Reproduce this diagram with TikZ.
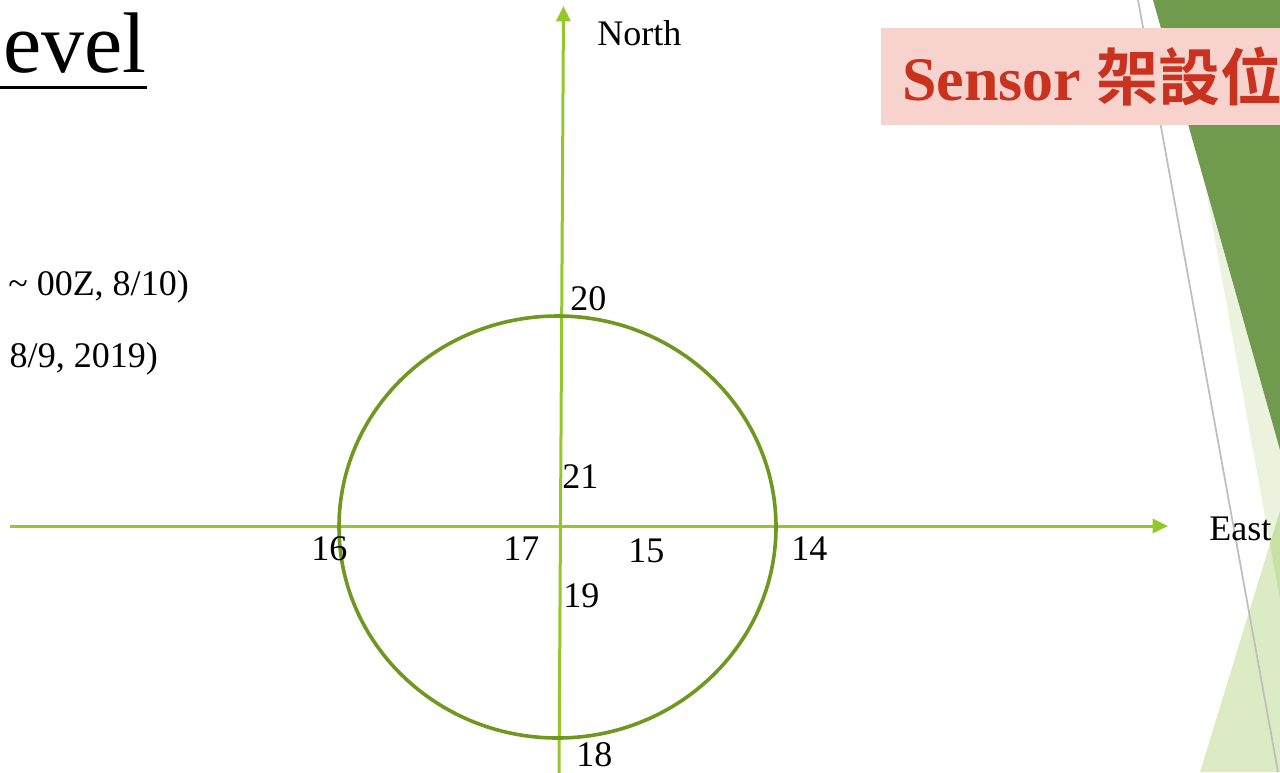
\documentclass[tikz,border=0pt]{standalone}
\usepackage{fontspec}
\setmainfont{Liberation Serif}
\newfontfamily\cjk{Noto Sans CJK TC}[BoldFont={Noto Sans CJK TC Bold}]
\usetikzlibrary{arrows.meta,shapes.geometric}
\definecolor{axisgreen}{RGB}{146,200,40}
\definecolor{ringgreen}{RGB}{110,152,30}
\definecolor{facetdark}{RGB}{112,155,78}
\definecolor{facetpale}{RGB}{235,242,222}
\definecolor{facetlight}{RGB}{221,235,196}
\definecolor{facetover}{RGB}{201,224,165}
\definecolor{boxpink}{RGB}{248,211,206}
\definecolor{boxred}{RGB}{200,50,30}
\definecolor{facetgray}{RGB}{190,190,190}
\begin{document}
\begin{tikzpicture}[x=0.75pt,y=-0.75pt,
  lbl/.style={inner sep=0pt, anchor=base west, font=\fontsize{27}{27}\selectfont},
  txt/.style={inner sep=0pt, anchor=base east, font=\fontsize{27}{27}\selectfont},
  axis/.style={draw=axisgreen, line width=2.25pt, -{Triangle[length=11.5pt,width=10.5pt]}}]
\useasboundingbox (0,0) rectangle (1280,772);
\clip (0,0) rectangle (1280,772);
% background facets
\fill[facetpale] (1206,190) -- (1280,600) -- (1280,450) -- cycle;
\fill[facetdark] (1153,0) -- (1280,0) -- (1280,450) -- cycle;
\fill[facetlight] (1200,772) -- (1280,511) -- (1280,772) -- cycle;
\fill[facetover] (1270,544) -- (1280,511) -- (1280,600) -- cycle;
\draw[facetgray, line width=1.3pt] (1138,0) -- (1278,772);
% banner
\node (banner) [fill=boxpink, inner sep=0pt, anchor=north west, minimum width=320pt, minimum height=72.75pt] at (881,28) {};
\node (bannertext) [inner sep=0pt, anchor=base west, text=boxred, font=\fontsize{46.5}{46.5}\selectfont\bfseries] at (902,100) {Sensor {\cjk 架設位}};
% title and text
\node (title) [inner sep=0pt, anchor=base east, font=\fontsize{64.5}{64.5}\selectfont] at (147,72) {Level};
\draw[line width=2.25pt] ([yshift=-11.6pt]title.base west) -- ([yshift=-11.6pt]title.base east);
\node (line1) [txt] at (189,295) {\textasciitilde{} 00Z, 8/10)};
\node (line2) [txt] at (158,367) {, 8/9, 2019)};
% axes
\coordinate (westEnd) at (10,526);
\coordinate (eastTip) at (1168,526);
\coordinate (southEnd) at (559,776);
\coordinate (northTip) at (563.5,6);
\draw[axis] (westEnd) -- (eastTip);
\draw[axis] (southEnd) -- (northTip);
% ring
\node (ring) [draw=ringgreen, line width=2.7pt, ellipse, inner sep=0pt, minimum width=327.75pt, minimum height=316.5pt] at (557.5,527) {};
% labels
\node (north) [lbl] at (597,45) {North};
\node (east) [lbl] at (1209,540) {East};
\node (n20) [lbl] at (570,310) {20};
\node (n21) [lbl] at (562,488) {21};
\node (n17) [lbl] at (503,560) {17};
\node (n15) [lbl] at (628,562) {15};
\node (n14) [lbl] at (791,560) {14};
\node (n19) [lbl] at (563,607) {19};
\node (n16) [lbl] at (311,560) {16};
\node (n18) [lbl] at (576,766) {18};
\end{tikzpicture}
\end{document}
